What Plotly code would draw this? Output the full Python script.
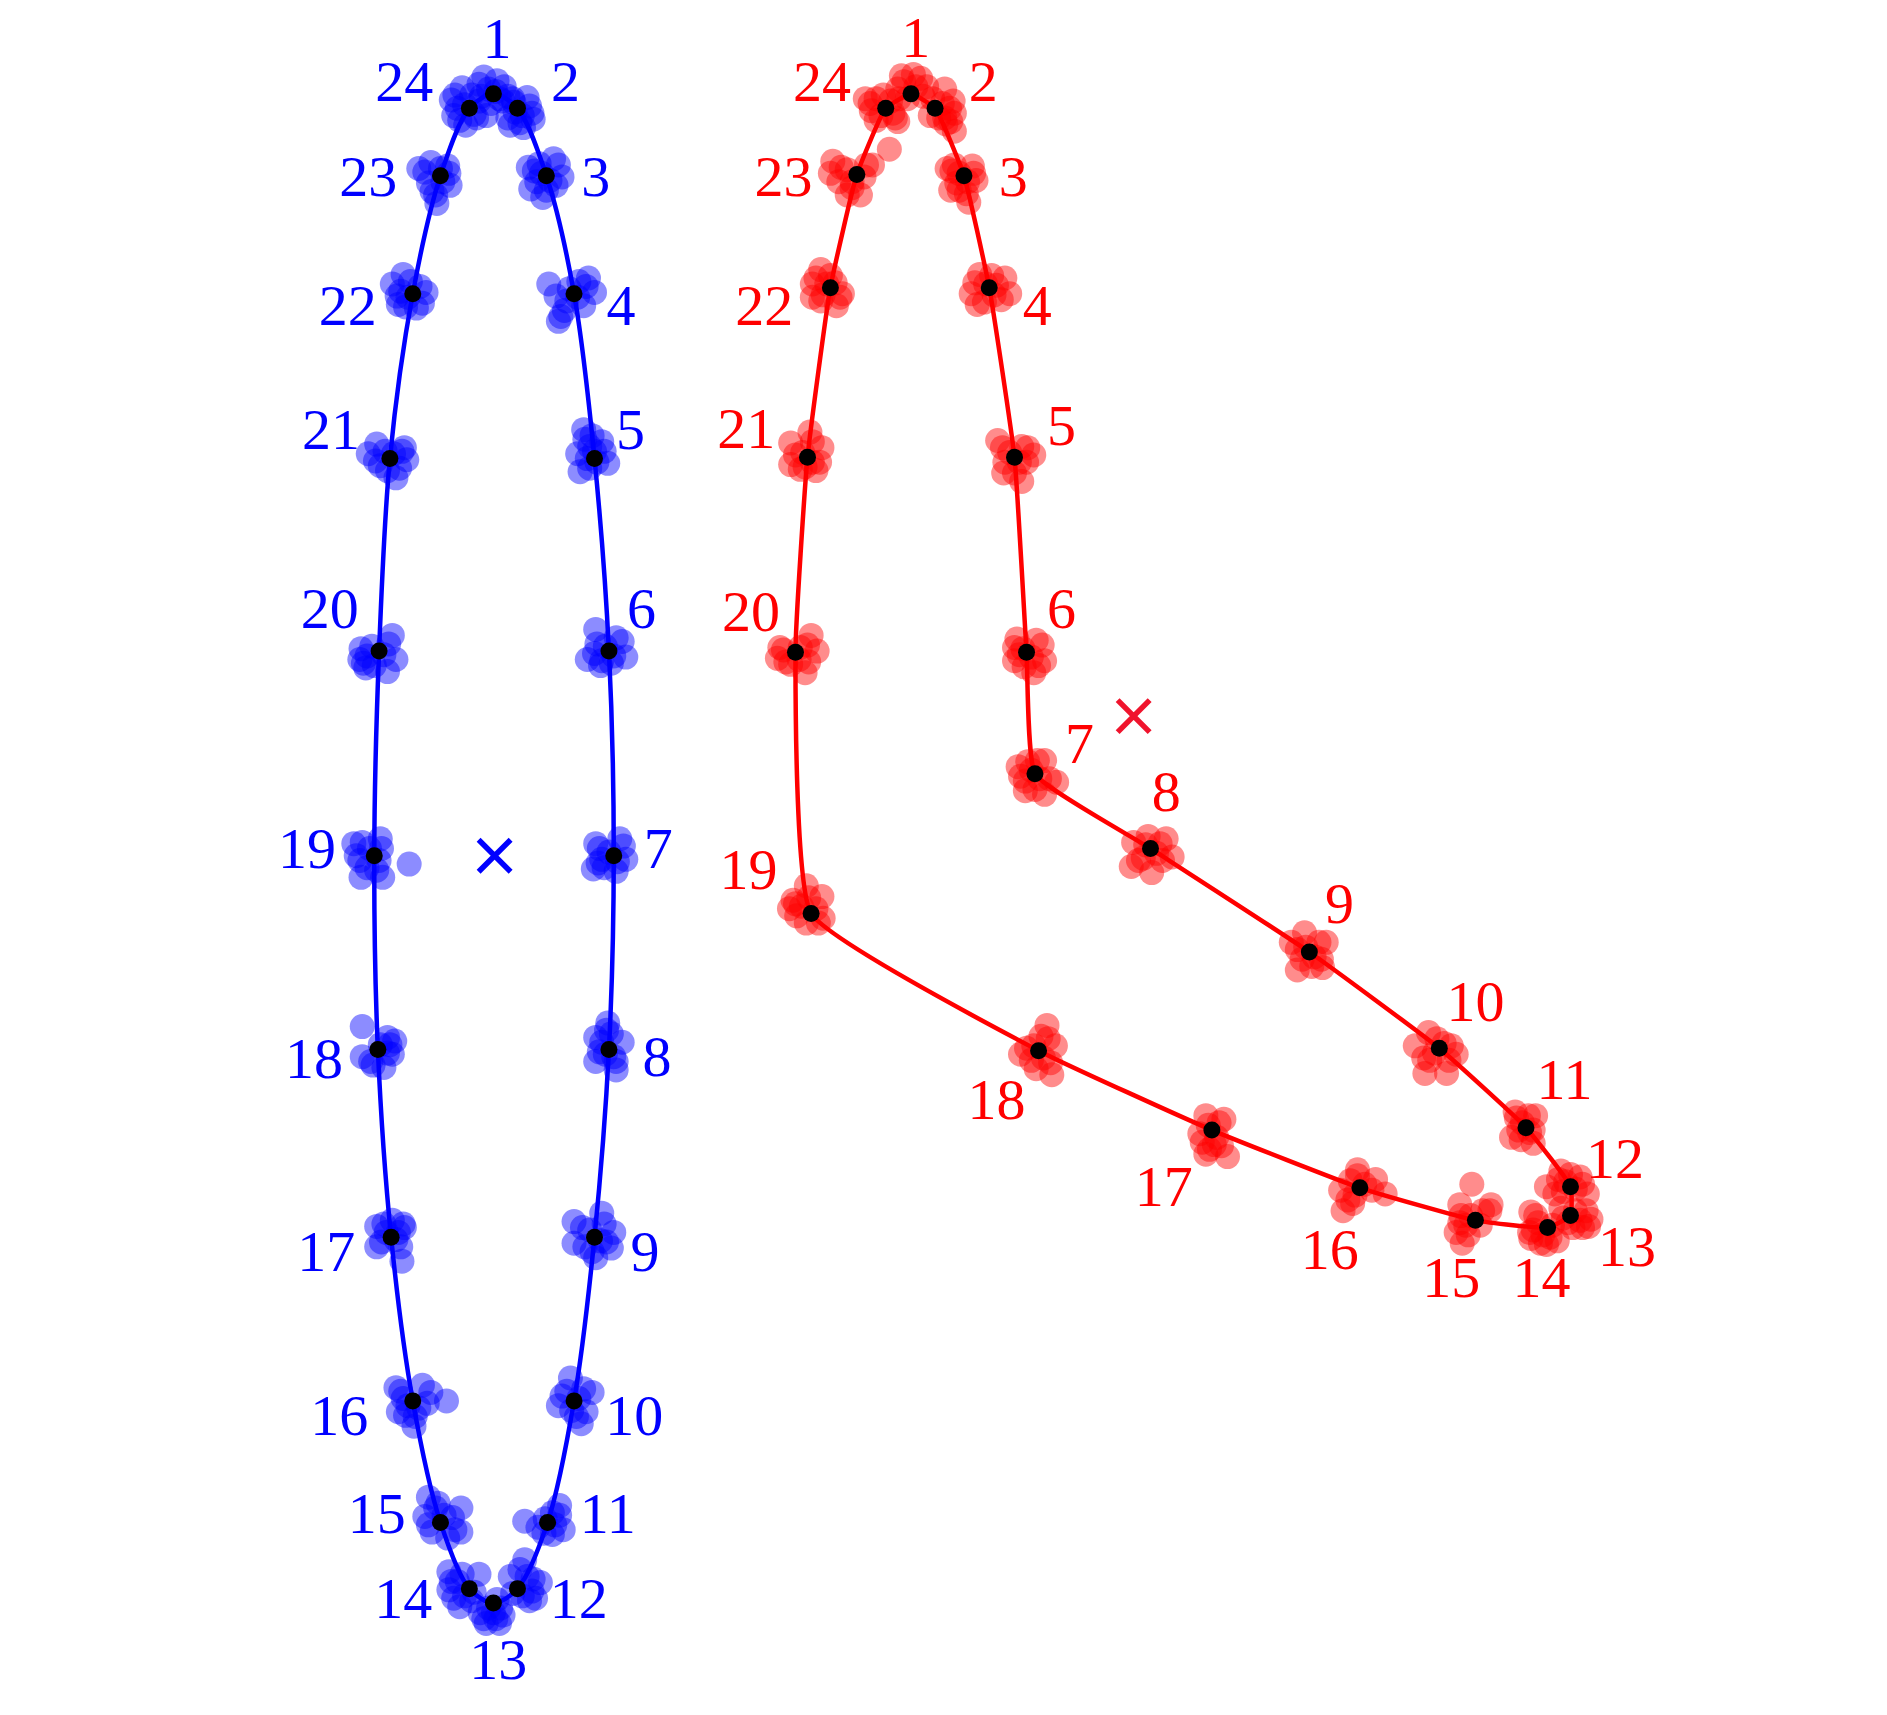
import plotly.graph_objects as go

# mean landmark positions (image coordinates, y grows downward)
blue_x = [410, 430, 454, 477, 494, 506, 510, 506, 494, 477, 455, 430,
          410, 390, 366, 343, 325, 314, 311, 315, 324, 343, 366, 390]
blue_y = [78, 90, 146, 244, 381, 541, 711, 872, 1028, 1164, 1265, 1320,
          1332, 1320, 1265, 1164, 1028, 872, 711, 541, 381, 244, 146, 90]

red_x = [757, 777, 801, 822, 843, 853, 860, 956, 1088, 1196, 1268, 1305,
         1305, 1286, 1226, 1130, 1007, 863, 674, 661, 671, 690, 712, 736]
red_y = [78, 90, 146, 239, 380, 542, 643, 705, 791, 871, 937, 986,
         1010, 1020, 1014, 987, 939, 873, 759, 542, 380, 239, 145, 90]

blue_centroid = (411, 711)
red_centroid = (942, 595)

landmark_ids = [str(i) for i in range(1, 25)]

# individual specimens: deviation of each landmark from its mean
blue_spread = [
    [(-8, -14), (3, -11), (9, -6), (-6, 18), (-4, -4), (5, 4), (-10, 2), (2, -2), (-12, -8), (8, 6), (-2, 8), (12, 2)],
    [(12, 4), (8, -9), (-6, 14), (5, 16), (-3, -5), (4, 6), (10, -2), (-2, 3), (-8, 8), (2, 12), (13, 9), (-4, -8)],
    [(-15, -7), (10, -9), (13, 1), (-13, 11), (-3, 18), (6, -14), (3, 4), (-4, -2), (-8, 5), (-10, -4), (8, 8), (0, 12), (-6, -10)],
    [(-21, -8), (12, -13), (17, -1), (-11, 19), (-13, 23), (8, 10), (-4, -4), (3, 3), (-6, 6), (-15, 2), (10, -6), (-8, 14), (4, -10)],
    [(-9, -24), (-2, -19), (-14, -4), (-12, 11), (11, 4), (6, -14), (-4, -10), (2, 3), (-6, 0), (-8, -16), (8, -6), (-4, 8), (0, -6)],
    [(-11, -18), (-18, 7), (11, -8), (14, 5), (-7, 12), (-3, -4), (4, 4), (-10, -6), (-12, 2), (6, -11), (2, 10), (-6, 8)],
    [(-15, -10), (-17, 11), (5, -14), (10, 3), (2, 13), (-4, -3), (3, 5), (-10, 3), (-12, -6), (8, -8), (-8, 10), (-13, 6)],
    [(-1, -22), (-11, -10), (-11, 10), (11, -6), (6, 17), (2, -13), (-3, 4), (4, 6), (-6, -6), (6, 10), (-8, 2), (-2, -16)],
    [(-17, -13), (6, -20), (16, -4), (-17, 5), (1, 17), (14, 9), (-4, -6), (5, 3), (-8, 8), (-10, -8), (8, -11), (-2, 12), (10, 4)],
    [(-3, -19), (-13, 4), (15, -7), (6, 19), (10, 9), (-6, -8), (4, -2), (-2, 8), (-10, -4), (8, -10), (2, 13)],
    [(-19, -1), (10, -14), (13, 6), (-3, 9), (4, -8), (6, 2), (-2, -3), (10, -6), (4, 10), (-8, 4)],
    [(6, -24), (19, -5), (15, 8), (-6, -10), (8, -10), (4, 6), (12, 2), (13, -8), (2, -16), (-4, 4), (10, 10)],
    [(-6, 17), (5, 17), (-11, 8), (8, 10), (0, 8), (-4, 4), (3, -3), (-8, 13), (2, 13), (6, 4)],
    [(-17, -14), (-17, 1), (-8, 15), (8, -12), (-10, -6), (-4, 6), (4, 3), (-13, 8), (-6, -12), (2, 10), (-15, -6)],
    [(-10, -21), (-13, -5), (17, -12), (17, 8), (6, 13), (-7, 8), (3, -6), (-4, -12), (10, -4), (-10, 2), (12, 6), (-2, -16)],
    [(-14, -11), (-12, 9), (28, 0), (15, -7), (1, 21), (8, -13), (-4, 4), (5, 6), (-8, -2), (-10, -8), (12, 2), (2, 13), (-6, 12)],
    [(-12, -9), (11, -8), (-12, 8), (9, 20), (1, -14), (4, 2), (-4, -4), (6, -4), (-8, 4), (8, 8), (-6, -11), (10, -11)],
    [(-13, -19), (-13, 6), (14, -7), (5, 15), (-6, 10), (8, 3), (10, -4), (2, -4), (12, 4), (-4, 13), (8, -10)],
    [(-17, -10), (5, -14), (29, 7), (-11, 18), (7, 18), (-15, 0), (-4, -6), (4, 4), (-6, 10), (-10, -11), (2, 12), (-12, 4), (6, -6)],
    [(-16, 7), (-15, -2), (11, -13), (14, 7), (7, 17), (-11, 14), (-6, -4), (4, 3), (-10, 4), (-4, 12), (8, -6), (-13, 10)],
    [(-18, -4), (-11, -12), (12, -9), (14, 1), (5, 16), (-8, 6), (3, -4), (-4, -6), (-12, 2), (8, 8), (10, -6), (-2, 10)],
    [(-17, -8), (-8, -16), (11, -1), (-12, 9), (3, 12), (6, -6), (-4, 3), (-10, -2), (-13, 2), (-2, -10), (8, 8), (-6, 11)],
    [(-18, -6), (-8, -11), (7, -2), (8, 8), (-7, 13), (-3, 23), (-13, -3), (2, 5), (0, -6), (-10, 6), (-4, 16), (6, -8)],
    [(-15, -7), (-13, 6), (-3, 14), (8, -6), (-6, -17), (-4, -3), (4, 5), (-10, 0), (-12, -11), (2, -11), (-8, 10), (6, 8)],
]

red_spread = [
    [(-8, -15), (8, -13), (28, -4), (-11, -4), (4, -6), (-3, 4), (10, 2), (-6, -10), (2, -16), (13, -6), (-10, 4)],
    [(16, 4), (9, 13), (16, 19), (-2, -8), (6, -4), (3, 8), (12, 0), (8, 8), (13, 11), (-4, 6), (15, -6)],
    [(-14, -6), (7, -8), (10, 4), (-11, 12), (4, 22), (-4, -2), (3, 5), (-6, 6), (-10, -4), (8, -2), (-4, 12), (2, 15), (-8, -9)],
    [(-15, 5), (-8, -11), (17, 5), (-10, 14), (13, -8), (-3, -3), (4, 6), (6, -2), (-12, -4), (10, 10), (-4, 12), (2, -10)],
    [(-14, -14), (6, -9), (16, -2), (-9, 13), (6, 20), (-4, -4), (4, 4), (-8, 4), (-10, -8), (10, 4), (0, 13), (11, -8)],
    [(-8, -11), (13, -6), (-10, 7), (6, 17), (15, 7), (-3, -3), (4, 4), (-6, 2), (-10, -4), (8, -10), (-2, 12), (10, 11)],
    [(-14, -6), (8, -11), (18, 7), (-8, 14), (8, 17), (-3, -3), (4, 4), (-8, 6), (-12, 2), (2, -11), (12, 4), (0, 13), (-6, -10)],
    [(-14, -5), (13, -8), (-16, 15), (1, 20), (18, 7), (-4, -3), (5, 4), (-6, 8), (-10, 10), (8, -4), (10, 10), (-2, -10)],
    [(-15, -8), (-4, -16), (14, -8), (-10, 15), (11, 13), (-3, -4), (4, 4), (-6, 6), (-10, -2), (8, -8), (2, 12), (10, 6)],
    [(-20, -2), (-9, -13), (14, 5), (-12, 21), (6, 21), (-4, 4), (4, -4), (-8, 10), (-13, 8), (8, 10), (-2, -8), (10, -2)],
    [(-9, -13), (-12, 8), (6, 13), (8, -10), (-3, -4), (3, 4), (-6, 2), (-8, -8), (-4, 10), (6, 2), (2, -10)],
    [(-8, -13), (8, -8), (-20, 0), (14, 6), (-4, -4), (4, 2), (-10, -6), (-13, 6), (10, -2), (0, -10), (-6, 4)],
    [(17, 3), (10, 10), (-8, -6), (4, -4), (13, -4), (-2, 6), (8, 4), (15, 9), (-6, 2), (2, 10)],
    [(-14, -13), (-14, 9), (-1, 14), (8, 11), (-8, -4), (-4, 6), (4, -2), (-12, 2), (-10, -10), (-6, 13), (2, 8), (-15, 4)],
    [(-3, -30), (-13, -13), (12, -8), (-16, 10), (-11, 19), (13, -13), (-4, -4), (4, 4), (-8, 4), (-12, -4), (6, -8), (-6, 12), (-13, 2)],
    [(-2, -15), (13, -7), (21, 5), (-16, 2), (-14, 19), (-4, 6), (4, -3), (-8, -6), (-10, 10), (10, 2), (-2, -10), (-6, 13)],
    [(-5, -12), (10, -9), (-5, 20), (13, 22), (-10, 3), (-3, -4), (4, 6), (2, 12), (-8, 10), (8, 13), (6, -6), (-2, 16)],
    [(7, -21), (-15, 3), (11, 20), (-2, 15), (14, -4), (-4, -4), (4, 6), (-6, 8), (-10, -2), (8, -10), (10, 10), (2, -12)],
    [(-15, -11), (-4, -23), (9, -14), (-18, -4), (10, 4), (-4, 8), (4, -4), (-8, -6), (-12, 2), (-2, -13), (6, 8), (-13, -8)],
    [(-15, 5), (13, -14), (18, -1), (8, 17), (-13, -4), (-4, 10), (4, -4), (3, 6), (-8, 8), (10, -6), (11, 8), (-10, -2)],
    [(-14, -12), (2, -21), (12, -8), (7, 11), (-14, 6), (-4, -4), (4, 4), (-2, 8), (-10, -2), (4, -13), (10, 4), (-6, 10)],
    [(-15, -3), (-8, -15), (10, 5), (5, 15), (-15, 8), (-3, -3), (4, -4), (-6, 6), (-12, -8), (8, 8), (-8, 11), (0, -10)],
    [(-20, -11), (-22, -1), (13, -8), (27, -21), (-8, 17), (3, 17), (-8, -4), (6, 2), (-4, 6), (-13, -6), (-15, 6), (8, -8), (-4, 11)],
    [(-17, -8), (-8, -8), (6, 4), (10, 11), (-4, 6), (4, -6), (-12, 2), (-13, -4), (-2, -11), (8, 8), (-8, 10)],
]

# where the number labels sit relative to each landmark
blue_label_off = [(3, -42), (40, -18), (41, 5), (39, 14), (30, -20), (27, -31), (37, -2), (40, 10),
                  (42, 16), (50, 16), (50, -3), (51, 12), (4, 51), (-55, 12), (-53, -3), (-61, 16),
                  (-54, 16), (-53, 12), (-56, -2), (-41, -31), (-49, -20), (-54, 14), (-60, 5), (-54, -18)]
red_label_off = [(4, -43), (40, -18), (41, 5), (40, 19), (39, -22), (29, -32), (37, -21), (13, -43),
                 (25, -36), (30, -35), (32, -36), (37, -19), (47, 30), (-5, 46), (-20, 52), (-25, 55),
                 (-40, 51), (-35, 45), (-52, -32), (-37, -30), (-51, -20), (-55, 19), (-61, 6), (-53, -18)]

FONT = "Liberation Serif, Times New Roman, serif"
SCALE = 1887 / 1568   # screen pixels per data unit
BODY = 8              # default page margin of the html body


def add_shape(fig, xs, ys, spread, label_off, centroid, color, dot_rgba, cross_color, smooth):
    # outline through the mean landmarks, closed back at landmark 1
    fig.add_trace(go.Scatter(x=xs + xs[:1], y=ys + ys[:1], mode="lines",
                             line=dict(color=color, width=4.5, shape="spline", smoothing=smooth),
                             hoverinfo="skip", showlegend=False))
    sx, sy = [], []
    for x0, y0, pts in zip(xs, ys, spread):
        for dx, dy in pts:
            sx.append(x0 + dx)
            sy.append(y0 + dy)
    fig.add_trace(go.Scatter(x=sx, y=sy, mode="markers",
                             marker=dict(size=25, color=dot_rgba, line=dict(width=0)),
                             hoverinfo="skip", showlegend=False))
    fig.add_trace(go.Scatter(x=xs, y=ys, mode="markers",
                             marker=dict(size=17, color="black", line=dict(width=0)),
                             text=landmark_ids, showlegend=False))
    fig.add_trace(go.Scatter(x=[x + o[0] for x, o in zip(xs, label_off)],
                             y=[y + o[1] for y, o in zip(ys, label_off)],
                             mode="text", text=landmark_ids, textposition="middle center",
                             textfont=dict(family=FONT, size=58, color=color),
                             cliponaxis=False, hoverinfo="skip", showlegend=False))
    fig.add_trace(go.Scatter(x=[centroid[0]], y=[centroid[1]], mode="markers",
                             marker=dict(symbol="x-thin", size=32,
                                         line=dict(color=cross_color, width=5.5)),
                             hoverinfo="skip", showlegend=False))


fig = go.Figure()
add_shape(fig, blue_x, blue_y, blue_spread, blue_label_off, blue_centroid,
          "#0000ff", "rgba(0,0,255,0.45)", "#0000ff", 0.9)
add_shape(fig, red_x, red_y, red_spread, red_label_off, red_centroid,
          "#ff0000", "rgba(255,0,0,0.45)", "#f0142d", 0.4)

fig.update_layout(
    width=1887 - BODY, height=1715 - BODY,
    margin=dict(l=0, r=0, t=0, b=0),
    paper_bgcolor="white", plot_bgcolor="white",
    xaxis=dict(range=[BODY / SCALE, 1568], visible=False),
    yaxis=dict(range=[1425, BODY / SCALE], visible=False),
    showlegend=False,
)

fig.write_html("out.html")
